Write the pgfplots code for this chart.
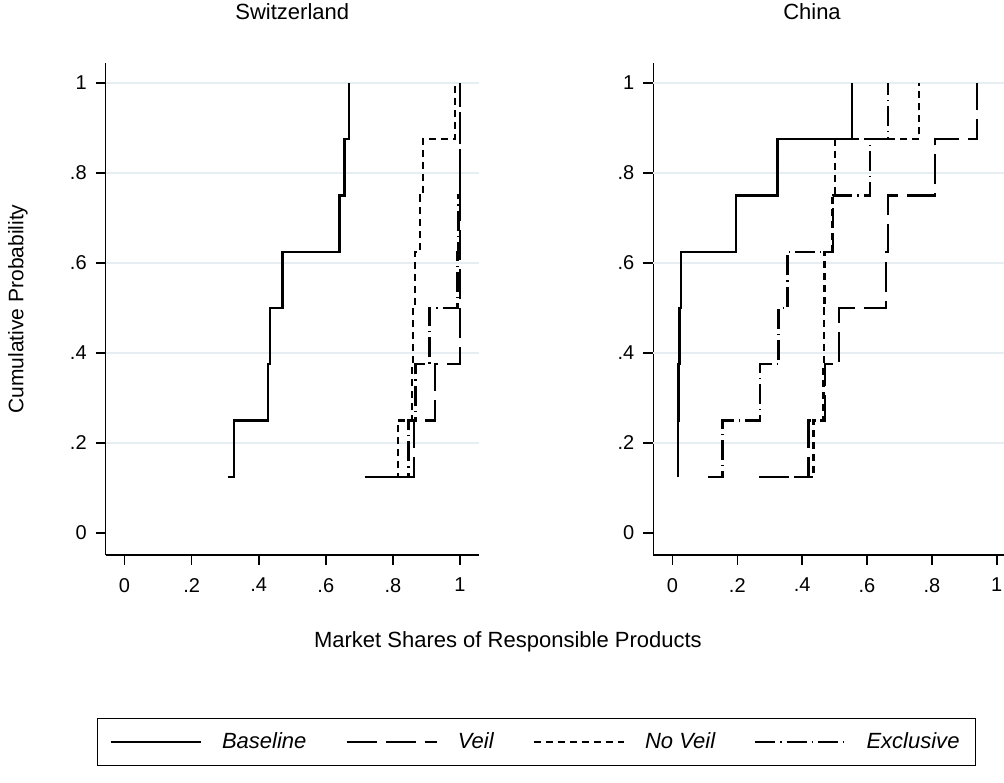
\documentclass[border=0pt]{standalone}
\usepackage{pgfplots}
\pgfplotsset{compat=1.18}
\usepackage{fontspec}
\setmainfont{Liberation Sans}
\definecolor{gridc}{RGB}{230,238,241}

\pgfplotstableread{
x y
0.308 0.125
0.327 0.25
0.428 0.375
0.433 0.5
0.471 0.625
0.641 0.75
0.656 0.875
0.669 1
}\swbase
\pgfplotstableread{
x y
0.716 0.125
0.862 0.25
0.926 0.375
1.000 0.5
1.000 0.625
1.000 0.75
1.000 0.875
1.000 1
}\swveil
\pgfplotstableread{
x y
0.805 0.125
0.816 0.25
0.857 0.375
0.860 0.5
0.865 0.625
0.880 0.75
0.889 0.875
0.985 1
}\swnoveil
\pgfplotstableread{
x y
0.800 0.125
0.847 0.25
0.867 0.375
0.909 0.5
0.993 0.625
0.996 0.75
1.000 0.875
1.000 1
}\swexcl
\pgfplotstableread{
x y
0.018 0.125
0.018 0.25
0.019 0.375
0.022 0.5
0.026 0.625
0.196 0.75
0.324 0.875
0.553 1
}\chbase
\pgfplotstableread{
x y
0.268 0.125
0.419 0.25
0.470 0.375
0.514 0.5
0.659 0.625
0.664 0.75
0.810 0.875
0.940 1
}\chveil
\pgfplotstableread{
x y
0.300 0.125
0.435 0.25
0.466 0.375
0.467 0.5
0.469 0.625
0.494 0.75
0.501 0.875
0.761 1
}\chnoveil
\pgfplotstableread{
x y
0.110 0.125
0.154 0.25
0.270 0.375
0.327 0.5
0.355 0.625
0.496 0.75
0.610 0.875
0.664 1
}\chexcl

\pgfplotsset{
  myax/.style={
    scale only axis,
    anchor=south west,
    height=246pt,
    ymin=-0.0489, ymax=1.0444,
    axis x line*=bottom, axis y line*=left,
    xtick={0,0.2,0.4,0.6,0.8,1}, xticklabels={0,.2,.4,.6,.8,1},
    ytick={0,0.2,0.4,0.6,0.8,1}, yticklabels={0,.2,.4,.6,.8,1},
    extra y ticks={0.2,0.4,0.6,0.8,1},
    extra y tick labels={},
    extra y tick style={grid=major, major grid style={gridc, line width=1pt}, major tick length=0pt},
    tick align=outside, major tick length=5pt,
    tick style={black, line width=0.8pt},
    axis line style={black, line width=0.8pt},
    /pgf/number format/assume math mode=true,
    ticklabel style={font=\fontsize{10}{12}\selectfont},
    xticklabel style={yshift=-3pt},
    yticklabel style={xshift=-1pt},
    title style={font=\fontsize{11}{13}\selectfont, anchor=center, yshift=19.5pt},
    label style={font=\fontsize{10.5}{12}\selectfont},
    const plot,
    every axis plot/.append style={line width=1.2pt, black},
  },
  base/.style={solid},
  veil/.style={dash pattern=on 15pt off 4.5pt},
  noveil/.style={dash pattern=on 3.5pt off 2.5pt},
  excl/.style={dash pattern=on 10pt off 2.5pt on 0.6pt off 2.5pt},
}

\begin{document}
\begin{tikzpicture}
\useasboundingbox (0,0) rectangle (502pt,391pt);
\begin{axis}[myax,
  at={(52.85pt,113.5pt)}, width=186.55pt,
  xmin=-0.056, xmax=1.056,
  title={Switzerland},
  title style={at={(0.5,1)}},
  ylabel={Cumulative Probability},
  ylabel style={at={(axis description cs:-0.235,0.5)}, anchor=center},
  xlabel={Market Shares of Responsible Products},
  xlabel style={at={(axis description cs:1.078,-0.1768)}, anchor=center, font=\fontsize{11}{13}\selectfont},
  legend columns=4,
  legend style={at={(axis description cs:-0.0233,-0.3313)}, anchor=north west,
    draw=black, line width=0.6pt, fill=white, inner xsep=6pt, inner ysep=5pt,
    font=\fontsize{11}{13}\selectfont,
    /tikz/every odd column/.append style={column sep=8pt},
    /tikz/every even column/.append style={column sep=17.5pt}},
  legend image code/.code={\draw[#1,line width=1.2pt] (0pt,0pt) -- (45pt,0pt);},
]
\addplot[base] table {\swbase};
\addplot[veil] table {\swveil};
\addplot[noveil] table {\swnoveil};
\addplot[excl] table {\swexcl};
\legend{\itshape Baseline,\itshape Veil,\itshape No Veil,\itshape Exclusive}
\end{axis}
\begin{axis}[myax,
  at={(326.65pt,113.5pt)}, width=175.35pt,
  xmin=-0.059, xmax=1.0225,
  title={China},
  title style={at={(0.4525,1)}},
]
\addplot[base] table {\chbase};
\addplot[veil] table {\chveil};
\addplot[noveil] table {\chnoveil};
\addplot[excl] table {\chexcl};
\end{axis}
\end{tikzpicture}
\end{document}
